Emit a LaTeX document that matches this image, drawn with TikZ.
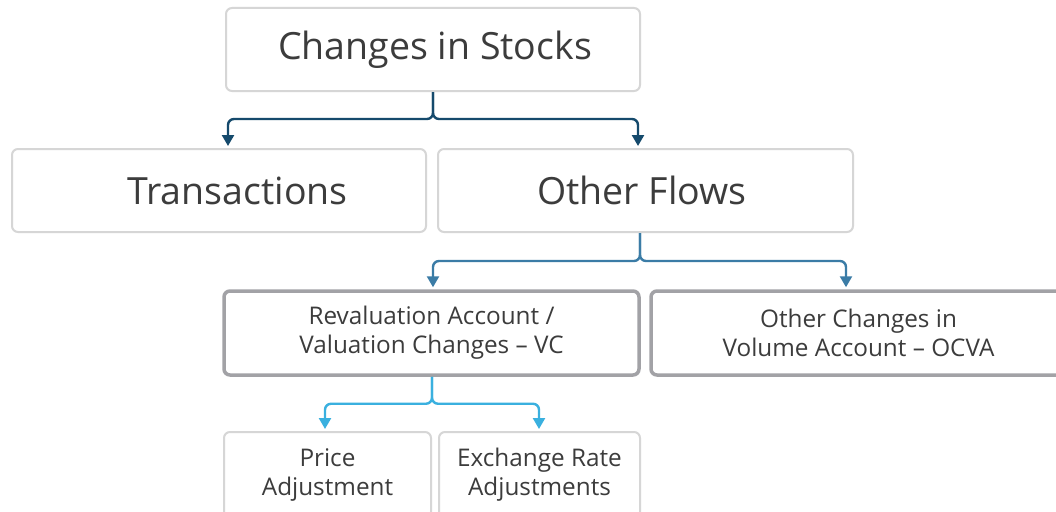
\documentclass[tikz,border=0pt]{standalone}
\usepackage{fontspec}
\setmainfont{Open Sans}
\usetikzlibrary{arrows.meta}
\definecolor{txt}{HTML}{3C3C3C}
\definecolor{lightborder}{HTML}{D6D6D6}
\definecolor{darkborder}{HTML}{A2A2A6}
\definecolor{navy}{HTML}{154A6C}
\definecolor{midblue}{HTML}{3B7CA6}
\definecolor{skyblue}{HTML}{3AB0DF}
\tikzset{
  box/.style={draw=lightborder, line width=2pt, rounded corners=6pt, fill=white,
    text=txt, align=center, inner sep=0pt},
  boldbox/.style={box, draw=darkborder, line width=3.5pt},
  bigtext/.style={font=\fontsize{37.5}{44}\selectfont},
  smalltext/.style={font=\fontsize{24.3}{29}\selectfont},
  conn/.style={line width=2.4pt, rounded corners=6pt,
    -{Triangle[width=12pt,length=11pt]}, shorten >=2pt},
}
\begin{document}
\begin{tikzpicture}[x=1pt,y=-1pt]
\clip (0,0) rectangle (1056,511);
\fill[white] (0,0) rectangle (1056,511);
\node[box, bigtext, minimum width=414pt, minimum height=83pt] (cs) at (433,49.5) {\hspace*{4pt}Changes in Stocks};
\node[box, bigtext, minimum width=414pt, minimum height=83pt] (tr) at (219,190.5) {\hspace*{37pt}Transactions};
\node[box, bigtext, minimum width=415pt, minimum height=83pt] (of) at (645.5,190.5) {Other Flows\hspace*{7pt}};
\node[boldbox, smalltext, minimum width=415pt, minimum height=84pt] (rv) at (431.5,333) {Revaluation Account /\\Valuation Changes -- VC};
\node[boldbox, smalltext, minimum width=415pt, minimum height=84pt] (oc) at (858.5,333) {Other Changes in\\Volume Account -- OCVA};
\node[box, smalltext, minimum width=207pt, minimum height=86pt] (pa) at (327.5,475) {Price\\Adjustment};
\node[box, smalltext, minimum width=201pt, minimum height=86pt] (er) at (539.5,475) {Exchange Rate\\Adjustments};
\draw[conn, navy] (cs.south) -- ++(0,27) -| ([xshift=9pt]tr.north);
\draw[conn, navy] (cs.south) -- ++(0,27) -| ([xshift=-7.5pt]of.north);
\draw[conn, midblue] ([xshift=-5.5pt]of.south) -- ++(0,28) -| ([xshift=1.5pt]rv.north);
\draw[conn, midblue] ([xshift=-5.5pt]of.south) -- ++(0,28) -| ([xshift=-12.5pt]oc.north);
\draw[conn, skyblue] ([xshift=0.5pt]rv.south) -- ++(0,27) -| ([xshift=-2.5pt]pa.north);
\draw[conn, skyblue] ([xshift=0.5pt]rv.south) -- ++(0,27) -| ([xshift=-0.5pt]er.north);
\end{tikzpicture}
\end{document}
